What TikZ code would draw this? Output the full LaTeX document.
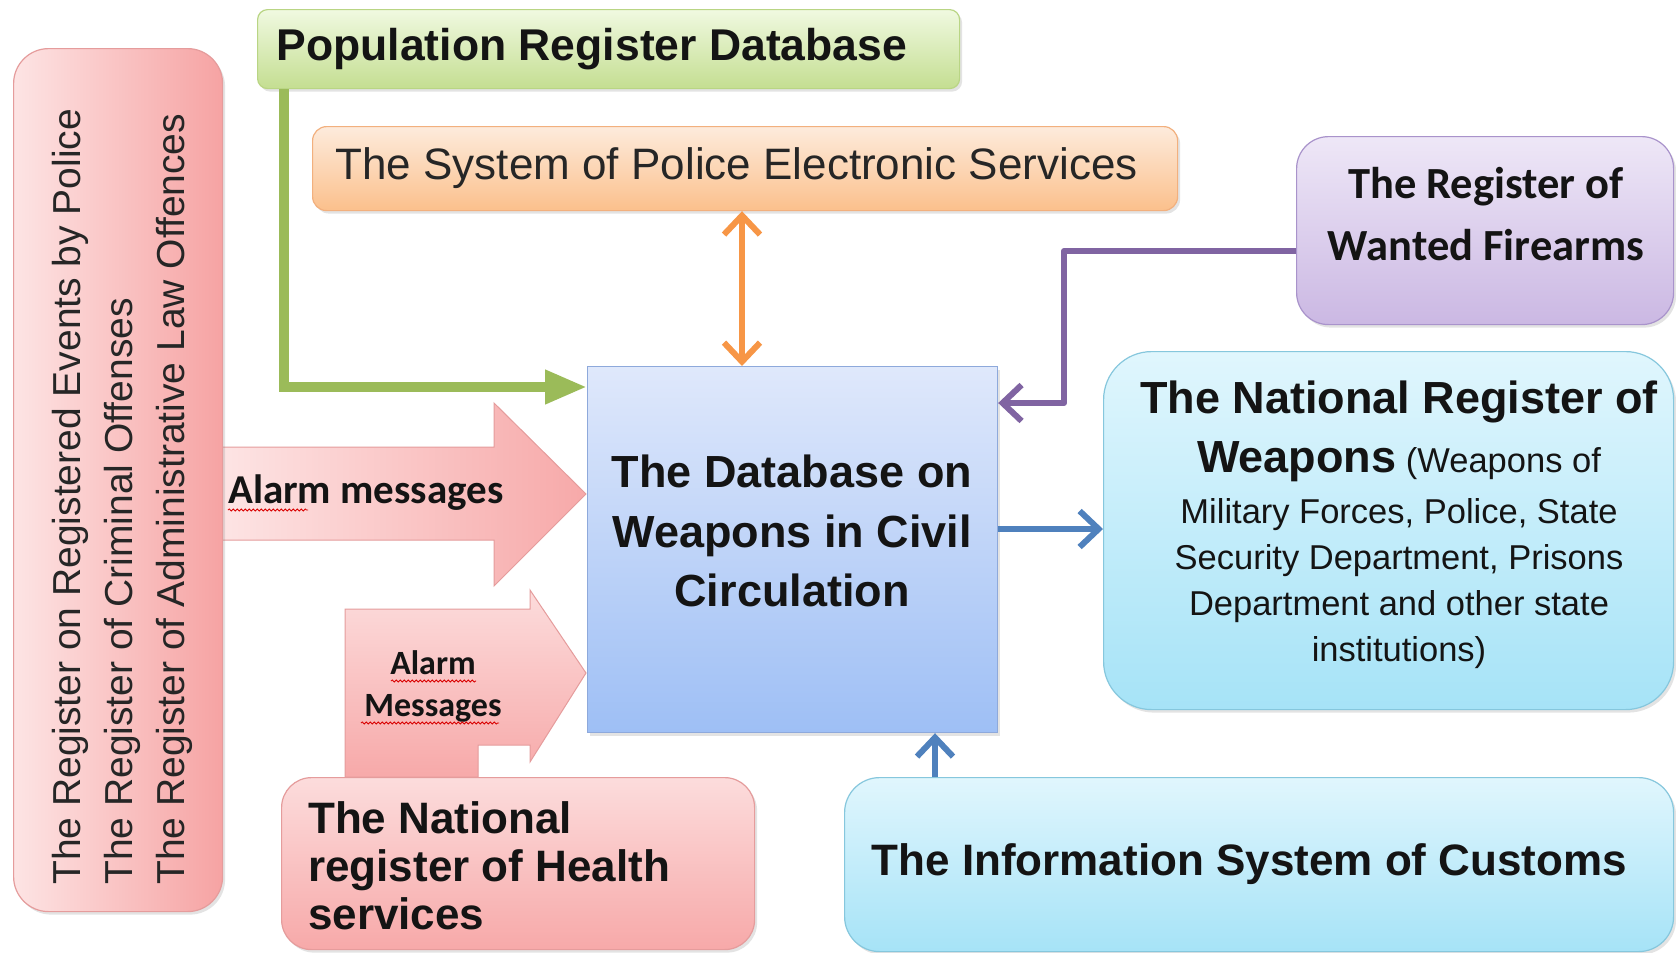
\documentclass[tikz,border=0pt]{standalone}
\usepackage{fontspec}
\setmainfont{Liberation Sans}
\newfontfamily\carlito{Carlito}
\usetikzlibrary{arrows.meta,shadows,decorations.pathmorphing,calc}
\definecolor{ink}{HTML}{141414}
\definecolor{inkg}{HTML}{262626}
\definecolor{grn}{HTML}{9BBB59}
\definecolor{org}{HTML}{F79646}
\definecolor{pur}{HTML}{8064A2}
\definecolor{blu}{HTML}{4F81BD}
\definecolor{popT}{HTML}{F0F9E0}
\definecolor{popB}{HTML}{D5ECA6}
\definecolor{popD}{HTML}{B9D584}
\definecolor{pesT}{HTML}{FDEBDC}
\definecolor{pesB}{HTML}{FBC08C}
\definecolor{pesD}{HTML}{F2B07E}
\definecolor{wanT}{HTML}{EEE7F7}
\definecolor{wanB}{HTML}{CBB8E3}
\definecolor{wanD}{HTML}{A993CB}
\definecolor{dbT}{HTML}{DFE8FB}
\definecolor{dbB}{HTML}{9EBFF5}
\definecolor{dbD}{HTML}{8EA9DB}
\definecolor{cyT}{HTML}{E0F6FD}
\definecolor{cyB}{HTML}{A6E3F7}
\definecolor{cyD}{HTML}{86C7DD}
\definecolor{rdT}{HTML}{FCDCDC}
\definecolor{rdB}{HTML}{F7A9A9}
\definecolor{rdL}{HTML}{FDE4E4}
\definecolor{rdR}{HTML}{F6A3A3}
\definecolor{rdD}{HTML}{E59C9C}
\begin{document}
\begin{tikzpicture}[x=1pt,y=-1pt,
  box/.style={draw, line width=1.2pt, inner sep=0pt, anchor=north west,
    drop shadow={opacity=0.22, shadow xshift=2.5pt, shadow yshift=-3pt}},
  lbl/.style={inner sep=0pt, text=ink},
  conn/.style={line width=6pt},
  barb/.style={-{Straight Barb[length=19pt,width=36pt]}},
  wavy/.style={draw=red!85!black, line width=0.8pt, decorate,
    decoration={snake, amplitude=1.1pt, segment length=4pt}}
]
\useasboundingbox (0,0) rectangle (1676,953);
\fill[white] (0,0) rectangle (1676,953);

% block arrows (behind the boxes)
\path[draw=rdD, line width=1pt, left color=rdL, right color=rdB]
  (222,447) -- (494,447) -- (494,403) -- (586,494) -- (494,586) -- (494,540) -- (222,540) -- cycle;
\path[draw=rdD, line width=1pt, top color=rdT, bottom color=rdB]
  (345,777) -- (345,609) -- (530,609) -- (530,590) -- (586,673) -- (530,762) -- (530,745) -- (478,745) -- (478,777) -- cycle;

% boxes
\node[box, rounded corners=10pt, top color=popT, bottom color=popD!60!popB, draw=popD,
  minimum height=79pt, text width=664pt, inner xsep=19pt, align=flush left,
  font=\bfseries\fontsize{44.5}{50}\selectfont, text=ink] (pop) at (257,9) {Population Register Database};
\node[box, rounded corners=14pt, top color=pesT, bottom color=pesB, draw=pesD,
  minimum height=84pt, text width=819pt, inner xsep=23pt, align=flush left,
  font=\fontsize{44}{50}\selectfont, text=inkg] (pes) at (312,126) {The System of Police Electronic Services};
\node[box, rounded corners=32pt, top color=wanT, bottom color=wanB, draw=wanD,
  minimum width=377pt, minimum height=188pt] (wanted) at (1296,136) {};
\node[box, top color=dbT, bottom color=dbB, draw=dbD,
  minimum width=410pt, minimum height=366pt] (db) at (587,366) {};
\node[box, rounded corners=48pt, top color=cyT, bottom color=cyB, draw=cyD,
  minimum width=570pt, minimum height=358pt] (nrw) at (1103,351) {};
\node[box, rounded corners=35pt, top color=cyT, bottom color=cyB, draw=cyD,
  minimum height=174pt, text width=775pt, inner xsep=27pt, align=flush left,
  font=\bfseries\fontsize{44}{50}\selectfont, text=ink] (customs) at (844,777) {The Information System of Customs};
\node[box, rounded corners=30pt, top color=rdT, bottom color=rdB, draw=rdD,
  minimum width=473pt, minimum height=172pt] (health) at (281,777) {};
\node[box, rounded corners=35pt, left color=rdL, right color=rdR, draw=rdD,
  minimum width=209pt, minimum height=863pt] (regs) at (13,48) {};

% texts
\node[lbl, align=center, font=\carlito\bfseries\fontsize{44.5}{62}\selectfont] (wantedtxt) at (1486,214)
  {The Register of\\Wanted Firearms};
\node[lbl, align=center, font=\bfseries\fontsize{45}{59.5}\selectfont] (dbtxt) at (792,531)
  {The Database on\\Weapons in Civil\\Circulation};
\node[lbl, align=center, font=\fontsize{34.5}{46}\selectfont] (nrwtxt) at (1399,525)
  {{\bfseries\fontsize{45}{46}\selectfont The National Register of}\\[13pt]
   {\bfseries\fontsize{45}{46}\selectfont Weapons} (Weapons of\\[5pt]
   Military Forces, Police, State\\
   Security Department, Prisons\\
   Department and other state\\
   institutions)};
\node[lbl, align=left, anchor=west, font=\bfseries\fontsize{44}{48}\selectfont] (healthtxt) at (308,866)
  {The National\\register of Health\\services};
\node[lbl, text=inkg, rotate=90, anchor=west, align=left, font=\fontsize{39}{52}\selectfont] (regstxt) at (122,885)
  {The Register on Registered Events by Police\\The Register of Criminal Offenses\\The Register of Administrative Law Offences};
\node[lbl, anchor=base west, font=\carlito\bfseries\fontsize{41}{48}\selectfont] (alarmA) at (228,503) {Alarm messages};
\node[lbl, align=center, font=\carlito\bfseries\fontsize{34}{42}\selectfont] (alarmB) at (433,686) {Alarm\\Messages};

% spell-check squiggles
\path[wavy] (228,510) -- (308,510);
\path[wavy] (391,681) -- (476,681);
\path[wavy] (361,723) -- (499,723);

% connectors
\coordinate (gx) at ($(pop.south west)+(27,0)$);
\coordinate (gy) at ($(db.north west)+(0,21)$);
\draw[grn, line width=10pt, -{Triangle[length=42pt,width=32pt]}] (gx) |- (gy);
\coordinate (ox) at (742,0);
\draw[org, conn, {Straight Barb[length=19pt,width=36pt]}-{Straight Barb[length=19pt,width=36pt]}]
  (pes.south -| ox) -- (db.north -| ox);
\coordinate (pA) at (1064,251);
\coordinate (pB) at (1064,403);
\draw[pur, conn, barb, line join=round] (wanted.west |- pA) -- (pA) -- (pB) -- (db.east |- pB);
\coordinate (bR) at (0,529);
\draw[blu, conn, barb] (db.east |- bR) -- (nrw.west |- bR);
\coordinate (bU) at (935,0);
\draw[blu, conn, barb] (customs.north -| bU) -- (db.south -| bU);
\end{tikzpicture}
\end{document}
